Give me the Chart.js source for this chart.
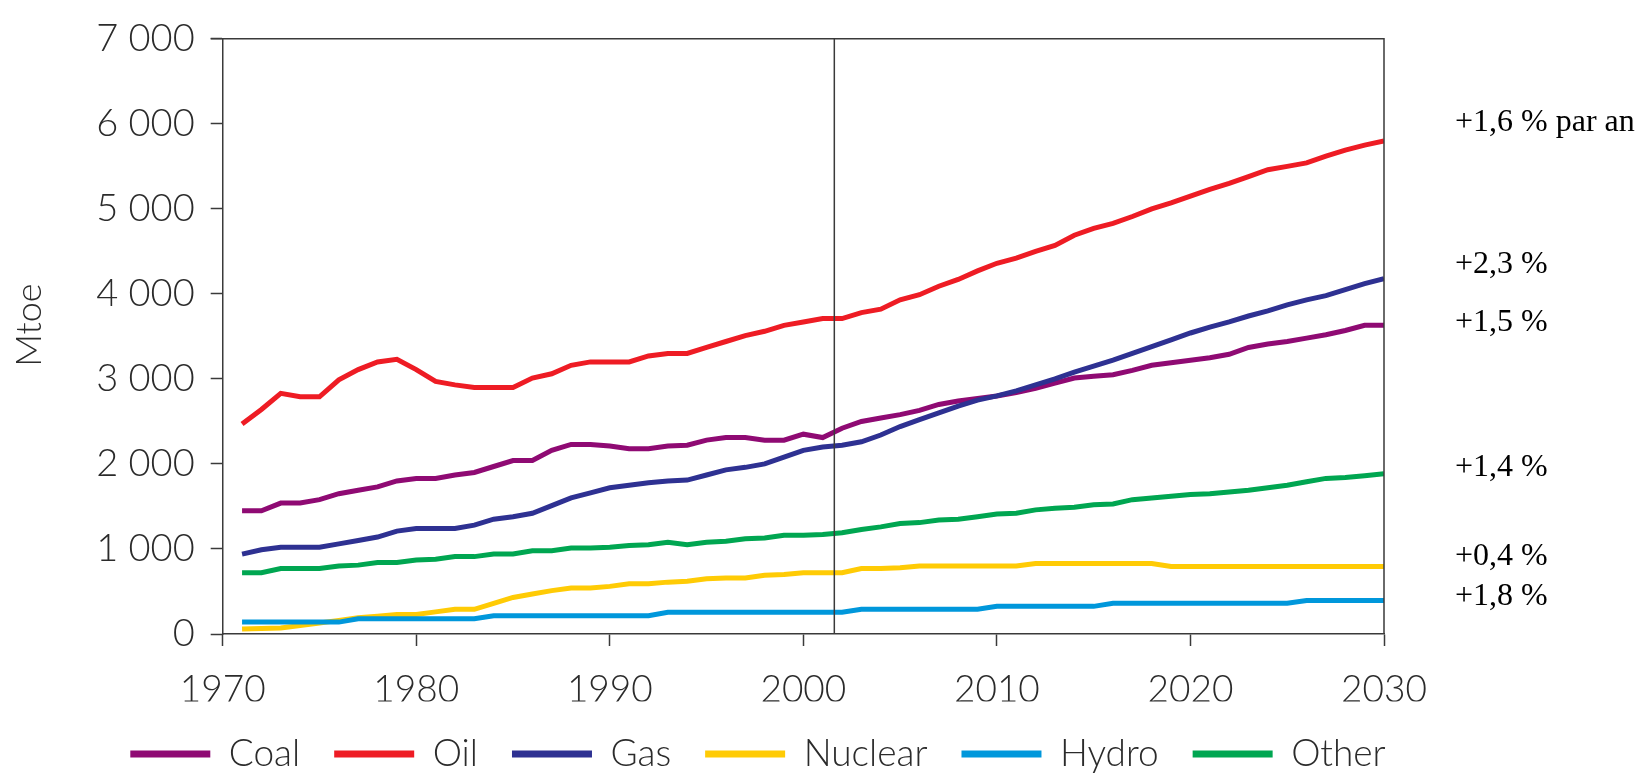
<!DOCTYPE html>
<html>
<head>
<meta charset="utf-8">
<title>Mtoe by fuel, 1971-2030</title>
<script src="https://cdn.jsdelivr.net/npm/chart.js@4.4.1/dist/chart.umd.min.js"></script>
<style>
  html, body { margin: 0; padding: 0; background: #fff; }
  #wrap { position: relative; width: 1639px; height: 775px; }
</style>
</head>
<body>
<div id="wrap"><canvas id="energy_chart"></canvas></div>
<script>
// Years on the x axis
const years = [
  1971, 1972, 1973, 1974, 1975, 1976, 1977, 1978, 1979, 1980,
  1981, 1982, 1983, 1984, 1985, 1986, 1987, 1988, 1989, 1990,
  1991, 1992, 1993, 1994, 1995, 1996, 1997, 1998, 1999, 2000,
  2001, 2002, 2003, 2004, 2005, 2006, 2007, 2008, 2009, 2010,
  2011, 2012, 2013, 2014, 2015, 2016, 2017, 2018, 2019, 2020,
  2021, 2022, 2023, 2024, 2025, 2026, 2027, 2028, 2029, 2030
];

// Mtoe values
const coal = [
  1450, 1450, 1540, 1540, 1580, 1650, 1690, 1730, 1800, 1830,
  1830, 1870, 1900, 1970, 2040, 2040, 2160, 2230, 2230, 2210,
  2180, 2180, 2210, 2220, 2280, 2310, 2310, 2280, 2280, 2350,
  2310, 2420, 2500, 2540, 2580, 2630, 2700, 2740, 2770, 2800,
  2840, 2890, 2950, 3010, 3030, 3050, 3100, 3160, 3190, 3220,
  3250, 3290, 3370, 3410, 3440, 3480, 3520, 3570, 3630, 3630
];
const oil = [
  2470, 2640, 2830, 2790, 2790, 2990, 3110, 3200, 3230, 3110,
  2970, 2930, 2900, 2900, 2900, 3010, 3060, 3160, 3200, 3200,
  3200, 3270, 3300, 3300, 3370, 3440, 3510, 3560, 3630, 3670,
  3710, 3710, 3780, 3820, 3930, 3990, 4090, 4170, 4270, 4360,
  4420, 4500, 4570, 4690, 4770, 4830, 4910, 5000, 5070, 5150,
  5230, 5300, 5380, 5460, 5500, 5540, 5620, 5690, 5750, 5800
];
const gas = [
  940, 990, 1020, 1020, 1020, 1060, 1100, 1140, 1210, 1240,
  1240, 1240, 1280, 1350, 1380, 1420, 1510, 1600, 1660, 1720,
  1750, 1780, 1800, 1810, 1870, 1930, 1960, 2000, 2080, 2160,
  2200, 2220, 2260, 2340, 2440, 2520, 2600, 2680, 2750, 2800,
  2860, 2930, 3000, 3080, 3150, 3220, 3300, 3380, 3460, 3540,
  3610, 3670, 3740, 3800, 3870, 3930, 3980, 4050, 4120, 4180
];
const nuclear = [
  60, 65, 70, 100, 130, 160, 190, 210, 230, 230,
  260, 290, 290, 360, 430, 470, 510, 540, 540, 560,
  590, 590, 610, 620, 650, 660, 660, 690, 700, 720,
  720, 720, 770, 770, 780, 800, 800, 800, 800, 800,
  800, 830, 830, 830, 830, 830, 830, 830, 795, 795,
  795, 795, 795, 795, 795, 795, 795, 795, 795, 795
];
const hydro = [
  140, 140, 140, 140, 140, 140, 180, 180, 180, 180,
  180, 180, 180, 215, 215, 215, 215, 215, 215, 215,
  215, 215, 255, 255, 255, 255, 255, 255, 255, 255,
  255, 255, 290, 290, 290, 290, 290, 290, 290, 325,
  325, 325, 325, 325, 325, 362, 362, 362, 362, 362,
  362, 362, 362, 362, 362, 395, 395, 395, 395, 395
];
const other = [
  720, 720, 770, 770, 770, 800, 810, 840, 840, 870,
  880, 910, 910, 940, 940, 980, 980, 1010, 1010, 1020,
  1040, 1050, 1080, 1050, 1080, 1090, 1120, 1130, 1160, 1160,
  1170, 1190, 1230, 1260, 1300, 1310, 1340, 1350, 1380, 1410,
  1420, 1460, 1480, 1490, 1520, 1530, 1580, 1600, 1620, 1640,
  1650, 1670, 1690, 1720, 1750, 1790, 1830, 1840, 1860, 1885
];

// Growth rates printed at the right, with the height (Mtoe) where each sits
const growthLabels = ['+1,6 % par an', '+2,3 %', '+1,5 %', '+1,4 %', '+0,4 %', '+1,8 %'];
const growthLabelLevels = [6010, 4345, 3665, 1955, 915, 440];

// Start of the projection period
const projectionStart = 2001.6;

const sansFont = 'Lato, "Open Sans", sans-serif';
const inkColor = '#2b2b2b';
const axisColor = '#3a3a3a';

// Draws the frame (top and right), the projection divider, the y title and the growth notes
const extrasPlugin = {
  id: 'extras',
  afterDatasetsDraw(chart) {
    const { ctx, chartArea, scales } = chart;
    ctx.save();
    ctx.strokeStyle = axisColor;
    ctx.lineWidth = 1.5;

    // frame top and right
    ctx.beginPath();
    ctx.moveTo(chartArea.left - 12, chartArea.top);
    ctx.lineTo(chartArea.right, chartArea.top);
    ctx.lineTo(chartArea.right, chartArea.bottom);
    ctx.stroke();

    // vertical line where the projection begins
    const xDiv = scales.x.getPixelForValue(projectionStart);
    ctx.beginPath();
    ctx.moveTo(xDiv, chartArea.top);
    ctx.lineTo(xDiv, chartArea.bottom);
    ctx.stroke();

    // y axis title
    ctx.fillStyle = inkColor;
    ctx.font = '300 36px ' + sansFont;
    ctx.textAlign = 'center';
    ctx.textBaseline = 'middle';
    ctx.translate(29, 325);
    ctx.rotate(-Math.PI / 2);
    ctx.fillText('Mtoe', 0, 0);
    ctx.restore();

    // growth rates
    ctx.save();
    ctx.fillStyle = '#000';
    ctx.font = '32px "Liberation Serif", "Times New Roman", serif';
    ctx.textAlign = 'left';
    ctx.textBaseline = 'middle';
    growthLabels.forEach((txt, i) => {
      ctx.fillText(txt, 1455, scales.y.getPixelForValue(growthLabelLevels[i]));
    });
    ctx.restore();
  }
};

function makeSet(label, data, color, order) {
  return {
    label: label,
    data: data,
    borderColor: color,
    backgroundColor: color,
    borderWidth: 5,
    pointRadius: 0,
    tension: 0,
    fill: false,
    order: order
  };
}

const ctx = document.getElementById('energy_chart').getContext('2d');
new Chart(ctx, {
  type: 'line',
  data: {
    labels: years,
    datasets: [
      makeSet('Coal', coal, '#8f0a73', 2),
      makeSet('Oil', oil, '#ee1c24', 3),
      makeSet('Gas', gas, '#2e3192', 0),
      makeSet('Nuclear', nuclear, '#ffcb05', 4),
      makeSet('Hydro', hydro, '#0097db', 1),
      makeSet('Other', other, '#00a651', 5)
    ]
  },
  options: {
    responsive: true,
    maintainAspectRatio: false,
    animation: false,
    layout: { padding: { left: 0, right: 123, top: 28, bottom: 0 } },
    plugins: {
      tooltip: { enabled: false },
      legend: {
        position: 'bottom',
        maxHeight: 73.5,
        labels: {
          boxWidth: 80,
          boxHeight: 7,
          padding: 34,
          color: inkColor,
          font: { family: sansFont, size: 37, weight: '300' },
          sort: (a, b) => a.datasetIndex - b.datasetIndex,
          generateLabels: (chart) => {
            const items = Chart.defaults.plugins.legend.labels.generateLabels(chart);
            items.forEach(it => { it.lineWidth = 0; });
            return items;
          }
        }
      }
    },
    scales: {
      x: {
        type: 'linear',
        min: 1970,
        max: 2030,
        afterFit: (scale) => { scale.height = 67.5; },
        border: { color: axisColor, width: 1.5 },
        grid: { drawOnChartArea: false, drawTicks: true, tickLength: 12, tickColor: axisColor, tickWidth: 1.5 },
        ticks: {
          stepSize: 10,
          padding: 22,
          maxRotation: 0,
          color: inkColor,
          font: { family: sansFont, size: 37, weight: '300' },
          callback: (v) => String(v)
        }
      },
      y: {
        min: 0,
        max: 7000,
        afterFit: (scale) => { scale.width = 222.7; },
        border: { color: axisColor, width: 1.5 },
        grid: { drawOnChartArea: false, drawTicks: true, tickLength: 12, tickColor: axisColor, tickWidth: 1.5 },
        ticks: {
          stepSize: 1000,
          padding: 16,
          color: inkColor,
          font: { family: sansFont, size: 38, weight: '300' },
          callback: (v) => String(v).replace(/\B(?=(\d{3})+(?!\d))/g, ' ')
        }
      },
      // empty right-hand axis that only reserves room for the growth notes
      yNotes: {
        position: 'right',
        min: 0,
        max: 7000,
        afterFit: (scale) => { scale.width = 132; },
        border: { display: false },
        grid: { display: false },
        ticks: { display: false }
      }
    }
  },
  plugins: [extrasPlugin]
});
</script>
</body>
</html>
